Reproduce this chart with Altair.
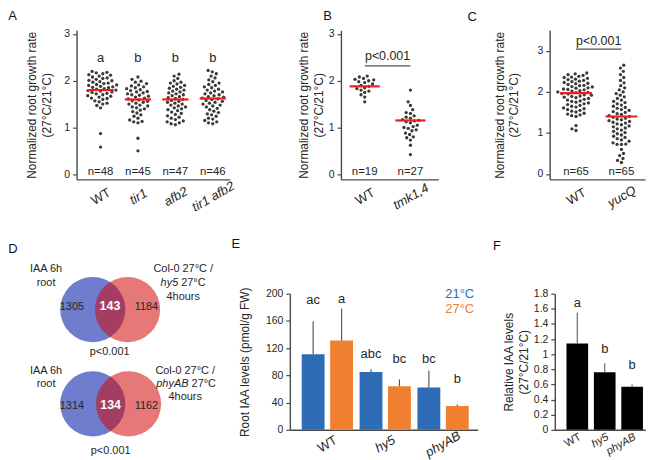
import math
import altair as alt
import pandas as pd

FONT = "Liberation Sans"
INK = "#262626"
AXIS_INK = "#4a4a4a"

# ============================ DATA ============================
# Panel A : normalized root growth rate (27°C/21°C)
A_groups = ["WT", "tir1", "afb2", "tir1 afb2"]
A_WT = [2.20, 2.18, 2.17, 2.15, 2.13, 2.12, 2.10, 2.08, 2.06, 2.05,
        2.03, 2.01, 2.00, 1.98, 1.97, 1.95, 1.94, 1.92, 1.91, 1.90,
        1.88, 1.87, 1.86, 1.85, 1.83, 1.82, 1.80, 1.79, 1.78, 1.76,
        1.75, 1.73, 1.72, 1.70, 1.68, 1.67, 1.65, 1.63, 1.62, 1.60,
        1.57, 1.55, 1.52, 1.50, 1.47, 1.42, 0.87, 0.58]
A_tir1 = [2.08, 2.03, 1.99, 1.97, 1.94, 1.91, 1.89, 1.87, 1.85, 1.83,
          1.81, 1.79, 1.77, 1.76, 1.74, 1.72, 1.70, 1.69, 1.67, 1.65,
          1.63, 1.61, 1.59, 1.57, 1.56, 1.54, 1.52, 1.50, 1.48, 1.46,
          1.44, 1.42, 1.40, 1.37, 1.34, 1.31, 1.27, 1.24, 1.20, 1.16,
          1.13, 1.12, 1.10, 0.77, 0.50]
A_afb2 = [2.14, 2.10, 2.05, 2.00, 1.97, 1.95, 1.93, 1.90, 1.88, 1.86,
          1.84, 1.82, 1.80, 1.78, 1.76, 1.74, 1.72, 1.70, 1.68, 1.66,
          1.64, 1.62, 1.60, 1.58, 1.56, 1.54, 1.52, 1.50, 1.48, 1.46,
          1.44, 1.42, 1.40, 1.38, 1.36, 1.33, 1.30, 1.28, 1.25, 1.22,
          1.20, 1.17, 1.14, 1.12, 1.10, 1.08, 1.06]
A_tir1afb2 = [2.22, 2.19, 2.15, 2.10, 2.06, 2.02, 1.98, 1.95, 1.92, 1.90,
              1.87, 1.85, 1.82, 1.80, 1.78, 1.76, 1.74, 1.72, 1.70, 1.68,
              1.66, 1.65, 1.63, 1.61, 1.60, 1.58, 1.56, 1.54, 1.52, 1.50,
              1.48, 1.46, 1.44, 1.41, 1.38, 1.35, 1.32, 1.29, 1.27, 1.24,
              1.20, 1.18, 1.15, 1.12, 1.10, 1.08]
A_means = [1.80, 1.60, 1.60, 1.62]
A_letters = ["a", "b", "b", "b"]

# Panel B
B_groups = ["WT", "tmk1,4"]
B_WT = [2.10, 2.08, 2.05, 2.03, 2.02, 2.00, 1.98, 1.96, 1.93, 1.90,
        1.88, 1.85, 1.83, 1.80, 1.78, 1.75, 1.70, 1.65, 1.55]
B_tmk = [1.80, 1.55, 1.47, 1.38, 1.32, 1.30, 1.25, 1.22, 1.20, 1.17,
         1.15, 1.14, 1.12, 1.10, 1.05, 1.02, 1.00, 0.98, 0.95, 0.93,
         0.88, 0.85, 0.80, 0.78, 0.73, 0.62, 0.42]
B_means = [1.88, 1.15]
B_p = "p<0.001"

# Panel C
C_groups = ["WT", "yucQ"]
C_WT = [2.46, 2.44, 2.42, 2.40, 2.38, 2.36, 2.35, 2.33, 2.31, 2.30,
        2.28, 2.26, 2.25, 2.23, 2.21, 2.20, 2.18, 2.16, 2.15, 2.13,
        2.12, 2.10, 2.09, 2.07, 2.06, 2.05, 2.03, 2.02, 2.00, 1.99,
        1.98, 1.96, 1.95, 1.93, 1.92, 1.90, 1.89, 1.87, 1.86, 1.84,
        1.82, 1.80, 1.78, 1.77, 1.75, 1.73, 1.71, 1.69, 1.67, 1.65,
        1.63, 1.61, 1.59, 1.57, 1.55, 1.53, 1.51, 1.48, 1.46, 1.44,
        1.42, 1.40, 1.18, 1.10, 1.06]
C_yuc = [2.65, 2.58, 2.50, 2.42, 2.35, 2.28, 2.22, 2.15, 2.10, 2.05,
         2.00, 1.96, 1.92, 1.88, 1.84, 1.80, 1.77, 1.74, 1.71, 1.68,
         1.65, 1.62, 1.60, 1.57, 1.55, 1.52, 1.50, 1.47, 1.45, 1.42,
         1.40, 1.38, 1.36, 1.34, 1.32, 1.30, 1.28, 1.26, 1.24, 1.22,
         1.20, 1.17, 1.15, 1.12, 1.10, 1.07, 1.04, 1.01, 0.98, 0.95,
         0.92, 0.89, 0.86, 0.83, 0.80, 0.76, 0.73, 0.72, 0.72, 0.60,
         0.50, 0.45, 0.38, 0.33, 0.28]
C_means = [1.97, 1.40]
C_p = "p<0.001"

# Panel D : Venn diagrams
D_left_label = ["IAA 6h", "root"]
D_top_right = ["Col-0 27°C /", "hy5", "27°C", "4hours"]
D_bottom_right = ["Col-0 27°C /", "phyAB", "27°C", "4hours"]
D_top_counts = ["1305", "143", "1184"]
D_bottom_counts = ["1314", "134", "1162"]
D_p = "p<0.001"

# Panel E : root IAA levels (pmol/g FW)
E_genotypes = ["WT", "hy5", "phyAB"]
E_temps = ["21°C", "27°C"]
E_21 = [111, 85, 62]
E_27 = [131, 64, 35]
E_21_upper = [159, 89, 87]
E_27_upper = [178, 74, 37]
E_21_letters = ["ac", "abc", "bc"]
E_27_letters = ["a", "bc", "b"]

# Panel F : relative IAA levels (27°C/21°C)
F_genotypes = ["WT", "hy5", "phyAB"]
F_values = [1.14, 0.76, 0.57]
F_upper = [1.55, 0.88, 0.60]
F_letters = ["a", "b", "b"]

# ============================ STYLE / LAYOUT ============================
BLUE_E, ORANGE_E = "#2e6db5", "#f0802f"
VENN_BLUE, VENN_RED = "#6e7dcd", "#d10909"
RED_LINE = "#ee1c1c"
DOT = "#3a3a3a"
DOT_GAP = 4.4
Y_TITLE = ["Normalized root growth rate", "(27°C/21°C)"]


def swarm(vals, ppy, gap):
    """beeswarm offsets (px) so that dots do not overlap"""
    order = sorted(range(len(vals)), key=lambda i: vals[i])
    placed, offs = [], [0.0] * len(vals)
    for i in order:
        y = vals[i] * ppy
        spans = []
        for px, py in placed:
            dy = abs(y - py)
            if dy < gap:
                w = math.sqrt(gap * gap - dy * dy)
                spans.append((px - w, px + w))
        cands = sorted([0.0] + [a for a, _ in spans] + [b for _, b in spans],
                       key=lambda c: (abs(c), c))
        for c in cands:
            if all(not (a + 1e-6 < c < b - 1e-6) for a, b in spans):
                offs[i] = c
                break
        placed.append((offs[i], y))
    return offs


def letter_title(text, dx, offset):
    return alt.TitleParams(text, anchor="start", frame="group", dx=dx, offset=offset,
                           fontSize=13, fontWeight="normal", font=FONT, color="#111")


def scatter_panel(letter, dx, groups, series, means, width, height, xdom, ydom, yticks,
                  title_pad, letters=None, letter_y=None, pval=None, p_y=None,
                  line_y=None, half=0.35):
    n = len(groups)
    ppx = width / (xdom[1] - xdom[0])
    ppy = height / (ydom[1] - ydom[0])
    rows = []
    for gi, vals in enumerate(series):
        for v, o in zip(vals, swarm(vals, ppy, DOT_GAP)):
            rows.append({"x": gi + o / ppx, "y": v})
    pts = pd.DataFrame(rows)
    names = ",".join("'%s'" % g for g in groups)
    xaxis = alt.Axis(values=list(range(n)), labelExpr="[%s][datum.value]" % names,
                     ticks=False, grid=False, title=None, labelAngle=-30,
                     labelAlign="center", labelBaseline="middle", labelPadding=17,
                     labelFontSize=13, labelFlush=False, labelOverlap=False, labelColor=INK,
                     labelFontStyle={"condition": {"test": "datum.value == 0", "value": "normal"},
                                     "value": "italic"})
    yaxis = alt.Axis(values=yticks, title=Y_TITLE, tickSize=4, labelPadding=3, grid=False,
                     titlePadding=title_pad, titleLineHeight=15, labelOverlap=False)
    xs = alt.Scale(domain=xdom, nice=False, zero=False)
    ys = alt.Scale(domain=ydom, nice=False, zero=False)

    def X(f):
        return alt.X(f, type="quantitative", scale=xs, axis=xaxis)

    def Y(f):
        return alt.Y(f, type="quantitative", scale=ys, axis=yaxis)

    dots = alt.Chart(pts).mark_circle(size=11, color=DOT, opacity=1).encode(x=X("x"), y=Y("y"))
    mdf = pd.DataFrame({"x1": [i - half for i in range(n)], "x2": [i + half for i in range(n)],
                        "y": means})
    mean_rule = alt.Chart(mdf).mark_rule(color=RED_LINE, strokeWidth=2.2).encode(
        x=X("x1"), x2="x2", y=Y("y"))
    ndf = pd.DataFrame({"x": list(range(n)), "y": [0.05] * n,
                        "t": ["n=%d" % len(v) for v in series]})
    ntext = alt.Chart(ndf).mark_text(fontSize=11.5, color=INK, font=FONT).encode(
        x=X("x"), y=Y("y"), text="t")
    layers = [dots, mean_rule, ntext]
    if letters:
        ldf = pd.DataFrame({"x": list(range(n)), "y": [letter_y] * n, "t": letters})
        layers.append(alt.Chart(ldf).mark_text(fontSize=13, color=INK, font=FONT).encode(
            x=X("x"), y=Y("y"), text="t"))
    if pval:
        pdf = pd.DataFrame({"x": [0.5], "y": [p_y], "t": [pval]})
        layers.append(alt.Chart(pdf).mark_text(fontSize=12.5, color=INK, font=FONT).encode(
            x=X("x"), y=Y("y"), text="t"))
        rdf = pd.DataFrame({"x1": [0], "x2": [1], "y": [line_y]})
        layers.append(alt.Chart(rdf).mark_rule(color="#555555", strokeWidth=1.2).encode(
            x=X("x1"), x2="x2", y=Y("y")))
    return alt.layer(*layers).properties(width=width, height=height,
                                         title=letter_title(letter, dx, 6))


panelA = scatter_panel("A", -68.7, A_groups, [A_WT, A_tir1, A_afb2, A_tir1afb2], A_means,
                       154, 150, [-0.64, 3.45], [-0.11, 3.08], [0, 1, 2, 3], 10,
                       letters=A_letters, letter_y=2.48)
panelB = scatter_panel("B", -17.7, B_groups, [B_WT, B_tmk], B_means,
                       98, 150, [-0.52, 1.61], [-0.11, 3.08], [0, 1, 2, 3], 3,
                       pval=B_p, p_y=2.52, line_y=2.32, half=0.33)
panelC = scatter_panel("C", -82.7, C_groups, [C_WT, C_yuc], C_means,
                       96, 150, [-0.58, 1.52], [-0.13, 3.5], [0, 1, 2, 3], 16,
                       pval=C_p, p_y=3.24, line_y=3.04)

# ---------------- Panel D (Venn) ----------------
VENN_AREA = math.pi * 37 ** 2
dxs = alt.Scale(domain=[76.7, 213.1], nice=False, zero=False)
dys = alt.Scale(domain=[289, 426], nice=False, zero=False, reverse=True)


def DX():
    return alt.X("x:Q", scale=dxs, axis=None)


def DY():
    return alt.Y("y:Q", scale=dys, axis=None)


blue_df = pd.DataFrame({"x": [93, 93], "y": [305, 400]})
red_df = pd.DataFrame({"x": [128, 129], "y": [305, 400]})
centre_txt = pd.DataFrame({
    "t": [D_left_label[0], D_left_label[1], D_top_right[0], D_top_right[3],
          D_top_counts[0], D_top_counts[2], D_p,
          D_left_label[0], D_left_label[1], D_bottom_right[0], D_bottom_right[3],
          D_bottom_counts[0], D_bottom_counts[2], D_p],
    "x": [46, 46, 184, 184, 72, 147, 110, 46, 46, 186, 186, 72, 147, 111],
    "y": [264, 278, 264, 292, 302, 302, 348, 367, 380, 367, 393, 402, 402, 447]})
ital_txt = pd.DataFrame({"t": [D_top_right[1], D_bottom_right[1]], "x": [179, 189.3],
                         "y": [278, 380]})
left_txt = pd.DataFrame({"t": [D_top_right[2], D_bottom_right[2]], "x": [182, 192.4],
                         "y": [278, 380]})
bold_txt = pd.DataFrame({"t": [D_top_counts[1], D_bottom_counts[1]], "x": [110.3, 111],
                         "y": [301, 401]})

panelD = alt.layer(
    alt.Chart(blue_df).mark_circle(size=VENN_AREA, color=VENN_BLUE, opacity=1).encode(x=DX(), y=DY()),
    alt.Chart(red_df).mark_circle(size=VENN_AREA, color=VENN_RED, opacity=0.55).encode(x=DX(), y=DY()),
    alt.Chart(centre_txt).mark_text(fontSize=11, color=INK, font=FONT).encode(x=DX(), y=DY(), text="t"),
    alt.Chart(ital_txt).mark_text(fontSize=11, color=INK, font=FONT, fontStyle="italic",
                                  align="right").encode(x=DX(), y=DY(), text="t"),
    alt.Chart(left_txt).mark_text(fontSize=11, color=INK, font=FONT, align="left").encode(
        x=DX(), y=DY(), text="t"),
    alt.Chart(bold_txt).mark_text(fontSize=12.5, color="white", font=FONT, fontWeight="bold").encode(
        x=DX(), y=DY(), text="t"),
).properties(width=136.4, height=137, title=letter_title("D", -68.7, 7))

# ---------------- Panel E ----------------
E_letter_y = {"21°C": [190, 112, 104], "27°C": [192, 104, 75]}
erows = []
for i, g in enumerate(E_genotypes):
    erows.append({"genotype": g, "temp": "21°C", "value": E_21[i], "upper": E_21_upper[i],
                  "letter": E_21_letters[i], "ly": E_letter_y["21°C"][i], "col": BLUE_E})
    erows.append({"genotype": g, "temp": "27°C", "value": E_27[i], "upper": E_27_upper[i],
                  "letter": E_27_letters[i], "ly": E_letter_y["27°C"][i], "col": ORANGE_E})
edf = pd.DataFrame(erows)
legdf = pd.DataFrame({"genotype": ["phyAB", "phyAB"], "temp": ["27°C", "27°C"],
                      "y": [200, 178], "t": E_temps, "col": [BLUE_E, ORANGE_E]})

ex_axis = alt.Axis(title=None, ticks=False, labelAngle=-30, labelAlign="center",
                   labelBaseline="middle", labelPadding=14, labelFontSize=13, labelColor=INK,
                   labelOverlap=False,
                   labelFontStyle={"condition": {"test": "datum.value == 'WT'", "value": "normal"},
                                   "value": "italic"})
ey_axis = alt.Axis(values=[0, 40, 80, 120, 160, 200], title="Root IAA levels (pmol/g FW)",
                   tickSize=4, labelPadding=3, titlePadding=14, grid=False, labelOverlap=False)
EX = alt.X("genotype:N", sort=E_genotypes,
           scale=alt.Scale(paddingInner=0.114, paddingOuter=0.18, align=0.57), axis=ex_axis)
EXO = alt.XOffset("temp:N", sort=E_temps, scale=alt.Scale(paddingInner=0.196, paddingOuter=0))
ey_scale = alt.Scale(domain=[0, 200], nice=False)


def EY(f):
    return alt.Y(f, type="quantitative", scale=ey_scale, axis=ey_axis)


panelE = alt.layer(
    alt.Chart(edf).mark_bar().encode(x=EX, xOffset=EXO, y=EY("value"),
                                     color=alt.Color("col:N", scale=None)),
    alt.Chart(edf).mark_rule(color="#5a5a5a", strokeWidth=1.2).encode(
        x=EX, xOffset=EXO, y=EY("value"), y2="upper"),
    alt.Chart(edf).mark_text(fontSize=13, color=INK, font=FONT).encode(
        x=EX, xOffset=EXO, y=EY("ly"), text="letter"),
    alt.Chart(legdf).mark_text(fontSize=13, font=FONT, align="right", dx=17).encode(
        x=EX, xOffset=EXO, y=EY("y"), text="t", color=alt.Color("col:N", scale=None)),
).properties(width=189, height=137, title=letter_title("E", -58.7, 36))

# ---------------- Panel F ----------------
F_letter_y = [1.68, 1.07, 0.86]
fdf = pd.DataFrame({"genotype": F_genotypes, "value": F_values, "upper": F_upper,
                    "letter": F_letters, "ly": F_letter_y})
fx_axis = alt.Axis(title=None, ticks=False, labelAngle=-30, labelAlign="right",
                   labelBaseline="middle", labelPadding=6, labelOffset=3, labelFontSize=11,
                   labelColor=INK, labelOverlap=False,
                   labelFontStyle={"condition": {"test": "datum.value == 'WT'", "value": "normal"},
                                   "value": "italic"})
fy_axis = alt.Axis(values=[0, 0.2, 0.4, 0.6, 0.8, 1.0, 1.2, 1.4, 1.6, 1.8], format=".1~f",
                   title=["Relative IAA levels", "(27°C/21°C)"], tickSize=4, labelPadding=3,
                   titlePadding=3, titleLineHeight=15, grid=False, labelOverlap=False)
FX = alt.X("genotype:N", sort=F_genotypes,
           scale=alt.Scale(paddingInner=0.21, paddingOuter=0.255, align=0.836), axis=fx_axis)
fy_scale = alt.Scale(domain=[0, 1.8], nice=False)


def FY(f):
    return alt.Y(f, type="quantitative", scale=fy_scale, axis=fy_axis)


panelF = alt.layer(
    alt.Chart(fdf).mark_bar(color="#000000").encode(x=FX, y=FY("value")),
    alt.Chart(fdf).mark_rule(color="#6a6a6a", strokeWidth=1.2).encode(x=FX, y=FY("value"), y2="upper"),
    alt.Chart(fdf).mark_text(fontSize=13, color=INK, font=FONT).encode(x=FX, y=FY("ly"), text="letter"),
).properties(width=91, height=137, title=letter_title("F", -62.3, 36))

top = alt.hconcat(panelA, panelB, panelC, spacing=112, bounds="flush")
bottom = alt.hconcat(panelD, panelE, panelF, spacing=77.6, bounds="flush")

chart = (
    alt.vconcat(top, bottom, spacing=23)
    .properties(padding={"left": 0, "top": 0, "right": 6, "bottom": 4})
    .configure(font=FONT)
    .configure_view(stroke=None)
    .configure_axis(domainColor=AXIS_INK, domainWidth=1.4, tickColor=AXIS_INK, tickWidth=1.2,
                    labelColor=INK, labelFont=FONT, labelFontSize=10.5, titleFont=FONT,
                    titleFontSize=12, titleFontWeight="normal", titleColor=INK, grid=False)
)

chart.save("out.html", embed_options={"renderer": "svg", "actions": False})
